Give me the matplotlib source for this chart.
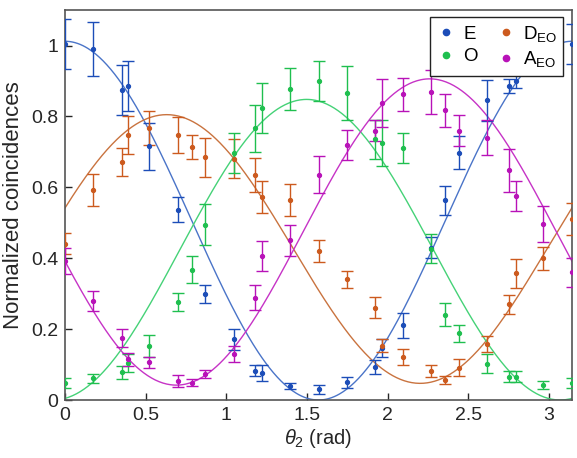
"""Normalized coincidences vs theta_2 with cos^2 fits for E, O, D_EO, A_EO."""

import matplotlib

matplotlib.use("Agg")
import matplotlib.pyplot as plt
import numpy as np

# measurement angles (rad)
THETA = [0.0, 0.175, 0.35, 0.39, 0.52, 0.70, 0.785, 0.87, 1.045, 1.178, 1.223,
         1.395, 1.575, 1.75, 1.92, 1.965, 2.095, 2.27, 2.356, 2.44, 2.618,
         2.75, 2.796, 2.965, 3.14]

E_VAL = [1.005, 0.99, 0.875, 0.885, 0.716, 0.537, np.nan, 0.30, 0.171, 0.083, 0.077,
         0.04, 0.03, 0.05, 0.094, 0.146, 0.211, 0.43, 0.563, 0.698, 0.845,
         0.885, 0.90, 0.97, 1.005]
E_ERR = [0.07, 0.075, 0.07, 0.07, 0.066, 0.035, np.nan, 0.025, 0.03, 0.015, 0.023,
         0.008, 0.012, 0.016, 0.02, 0.025, 0.035, 0.03, 0.04, 0.047, 0.057,
         0.02, 0.02, 0.05, 0.056]

O_VAL = [0.047, 0.061, 0.078, 0.105, 0.152, 0.277, 0.368, 0.495, 0.697, 0.767, 0.823,
         0.878, 0.90, 0.866, 0.735, 0.725, 0.711, 0.427, 0.241, 0.188, 0.103,
         0.066, 0.066, 0.042, 0.047]
O_ERR = [0.014, 0.013, 0.018, 0.026, 0.03, 0.026, 0.038, 0.058, 0.057, 0.066, 0.07,
         0.06, 0.056, 0.077, 0.055, 0.066, 0.043, 0.04, 0.032, 0.024, 0.027,
         0.015, 0.015, 0.012, 0.014]

D_VAL = [0.441, 0.593, 0.671, 0.748, 0.767, 0.748, 0.715, 0.685, 0.680, 0.634, 0.572,
         0.563, 0.42, 0.34, 0.26, 0.153, 0.122, 0.083, 0.057, 0.091, 0.158,
         0.27, 0.357, 0.40, 0.51]
D_ERR = [0.03, 0.045, 0.04, 0.053, 0.047, 0.05, 0.034, 0.055, 0.055, 0.048, 0.045,
         0.045, 0.032, 0.025, 0.03, 0.018, 0.022, 0.017, 0.012, 0.024, 0.022,
         0.026, 0.04, 0.033, 0.045]

A_VAL = [0.392, 0.28, 0.174, 0.115, 0.106, 0.054, 0.049, 0.073, 0.13, 0.289, 0.406,
         0.45, 0.636, 0.72, 0.76, 0.838, 0.862, 0.868, 0.817, 0.76, 0.74,
         0.648, 0.576, 0.497, 0.36]
A_ERR = [0.036, 0.028, 0.025, 0.018, 0.016, 0.017, 0.01, 0.012, 0.022, 0.035, 0.042,
         0.045, 0.053, 0.042, 0.03, 0.067, 0.047, 0.062, 0.047, 0.043, 0.05,
         0.061, 0.042, 0.05, 0.04]

# fit parameters: offset + amp * cos(2 (theta - theta_max))
FIT_OFFSET = {"E": 0.506, "O": 0.424, "D": 0.426, "A": 0.474}
FIT_AMP = {"E": 0.506, "O": 0.424, "D": 0.379, "A": 0.432}
FIT_TMAX = {"E": 0.0, "O": 1.497, "D": 0.63, "A": 2.26}

LABELS = {"E": "E", "O": "O", "D": r"$\mathregular{D_{EO}}$", "A": r"$\mathregular{A_{EO}}$"}
DOT_COLORS = {"E": "#1c4db8", "O": "#1fbf4f", "D": "#cc5a1e", "A": "#b812b8"}
FIT_COLORS = {"E": "#4a74c8", "O": "#45d277", "D": "#c9733f", "A": "#c633c6"}

SERIES = {"E": (E_VAL, E_ERR), "O": (O_VAL, O_ERR), "D": (D_VAL, D_ERR), "A": (A_VAL, A_ERR)}


def main() -> None:
    plt.rcParams.update({
        "font.family": ["Liberation Sans", "DejaVu Sans"],
        "mathtext.fontset": "custom",
        "mathtext.rm": "Liberation Sans",
        "mathtext.it": "Liberation Sans:italic",
    })
    fig = plt.figure(figsize=(5.77, 4.58), dpi=100)
    ax = fig.add_axes([0.1127, 0.1266, 0.8786, 0.8514])

    th_fit = np.linspace(0, np.pi, 400)
    for key in ["E", "D", "O", "A"]:
        fit = FIT_OFFSET[key] + FIT_AMP[key] * np.cos(2 * (th_fit - FIT_TMAX[key]))
        ax.plot(th_fit, fit, color=FIT_COLORS[key], lw=1.0, zorder=2)

    handles = {}
    for key in ["E", "D", "O", "A"]:
        vals, errs = SERIES[key]
        ax.errorbar(THETA, vals, yerr=errs, fmt="o", ms=2.8, color=DOT_COLORS[key],
                    ecolor=DOT_COLORS[key], elinewidth=1.0, capsize=4, capthick=1.0,
                    zorder=3)
        h, = ax.plot([], [], "o", ms=4.5, color=DOT_COLORS[key], lw=0)
        handles[key] = h

    order = ["E", "O", "D", "A"]
    leg = ax.legend([handles[k] for k in order], [LABELS[k] for k in order], ncol=2,
                    loc="upper right", bbox_to_anchor=(0.983, 0.982), fontsize=13.5,
                    frameon=True, fancybox=False, framealpha=1.0, edgecolor="#222222",
                    handlelength=1.0, handletextpad=0.4, columnspacing=1.0,
                    borderpad=0.35, labelspacing=0.3, borderaxespad=0.0)
    leg.get_frame().set_linewidth(1.0)
    leg.set_zorder(5)

    ax.set_xlim(0, np.pi)
    ax.set_ylim(0, 1.1)
    ax.set_xticks([0, 0.5, 1, 1.5, 2, 2.5, 3], ["0", "0.5", "1", "1.5", "2", "2.5", "3"])
    ax.set_yticks([0, 0.2, 0.4, 0.6, 0.8, 1], ["0", "0.2", "0.4", "0.6", "0.8", "1"])
    ax.tick_params(direction="in", length=5, width=1.0, labelsize=14, colors="#262626",
                   pad=5)
    for s in ax.spines.values():
        s.set_color("#555555")
        s.set_linewidth(1.2)

    ax.set_xlabel(r"$\theta_2$ (rad)", fontsize=14.5, color="#262626", labelpad=2)
    ax.set_ylabel("Normalized coincidences", fontsize=16, color="#262626", labelpad=5)

    fig.savefig("out.png", dpi=100)
    plt.close(fig)


if __name__ == "__main__":
    main()
